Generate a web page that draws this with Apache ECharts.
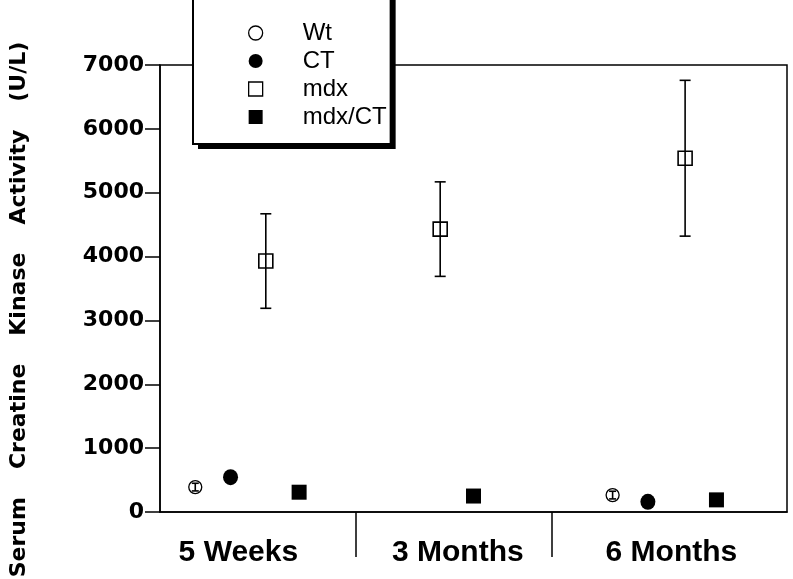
<!DOCTYPE html>
<html>
<head>
<meta charset="utf-8">
<script src="https://cdn.jsdelivr.net/npm/echarts@6/dist/echarts.min.js"></script>
<style>html,body{margin:0;padding:0;background:#fff}#chart{width:793px;height:579px}</style>
</head>
<body>
<div id="chart"></div>
<script>
// ---- data ----
const categories = ['5 Weeks', '3 Months', '6 Months'];
const seriesNames = ['Wt', 'CT', 'mdx', 'mdx/CT'];
const wtMean = [390, null, 265];
const wtErr = [60, null, 60];
const ctMean = [545, null, 160];
const mdxMean = [3930, 4430, 5540];
const mdxErr = [740, 740, 1220];
const mdxCtMean = [310, 250, 190];
const yMin = 0, yMax = 7000, yStep = 1000;

// ---- layout (positions on a 0..3.2 horizontal scale) ----
const xPosition = {
  'Wt': [0.18, null, 2.31],
  'CT': [0.36, null, 2.49],
  'mdx': [0.54, 1.43, 2.68],
  'mdx/CT': [0.71, 1.60, 2.84]
};
const labelPosition = [0.40, 1.52, 2.61];
const dividerPosition = [1, 2];

function pts(name, means) {
  const out = [];
  means.forEach((v, i) => { if (v != null) out.push([xPosition[name][i], v]); });
  return out;
}
function errPts(name, means, errs) {
  const out = [];
  means.forEach((v, i) => { if (v != null && errs[i] != null) out.push([xPosition[name][i], v - errs[i], v + errs[i]]); });
  return out;
}
function errorSeries(name, data, capW) {
  return {
    type: 'custom', name: name + ' error', z: 3, silent: true,
    renderItem: function (params, api) {
      const x = api.value(0);
      const lo = api.coord([x, api.value(1)]);
      const hi = api.coord([x, api.value(2)]);
      const st = { stroke: '#000', lineWidth: 1.6 };
      return { type: 'group', children: [
        { type: 'line', shape: { x1: hi[0], y1: hi[1], x2: lo[0], y2: lo[1] }, style: st },
        { type: 'line', shape: { x1: hi[0] - capW / 2, y1: hi[1], x2: hi[0] + capW / 2, y2: hi[1] }, style: st },
        { type: 'line', shape: { x1: lo[0] - capW / 2, y1: lo[1], x2: lo[0] + capW / 2, y2: lo[1] }, style: st }
      ]};
    },
    data: data
  };
}

const black = '#000';
function legendBlock(isShadow) {
  return {
    orient: 'vertical', left: isShadow ? 198 : 193, top: isShadow ? -3 : -8,
    z: isShadow ? 5 : 6,
    padding: [29, 4, 15, 55],
    itemWidth: 14, itemHeight: 14, itemGap: 4,
    backgroundColor: isShadow ? black : '#fff',
    borderColor: black, borderWidth: isShadow ? 0 : 2,
    selectedMode: false,
    textStyle: { fontFamily: 'Liberation Sans', fontSize: 24, color: black, lineHeight: 24, padding: [0, 0, 0, 35] },
    data: [
      { name: 'Wt', icon: 'circle', itemStyle: { color: isShadow ? black : '#fff', borderColor: black, borderWidth: 1.3 } },
      { name: 'CT', icon: 'circle', itemStyle: { color: black } },
      { name: 'mdx', icon: 'rect', itemStyle: { color: isShadow ? black : '#fff', borderColor: black, borderWidth: 1.3 } },
      { name: 'mdx/CT', icon: 'rect', itemStyle: { color: black } }
    ]
  };
}

const chart = echarts.init(document.getElementById('chart'), null, { renderer: 'canvas' });
chart.setOption({
  animation: false,
  backgroundColor: '#fff',
  grid: { left: 160, right: 6, top: 65, bottom: 67, show: true, borderColor: black, borderWidth: 1.5, backgroundColor: 'transparent', outerBoundsMode: 'none' },
  legend: [legendBlock(true), legendBlock(false)],
  xAxis: {
    type: 'value', min: 0, max: 3.2,
    axisLine: { show: true, lineStyle: { color: black, width: 1.5 } },
    axisTick: { show: true, customValues: dividerPosition, length: 45, lineStyle: { color: black, width: 1.5 } },
    axisLabel: {
      customValues: labelPosition, margin: 26,
      fontFamily: 'Liberation Sans', fontWeight: 'bold', fontSize: 30, color: black,
      formatter: function (v) { const i = labelPosition.indexOf(v); return i >= 0 ? categories[i] : ''; }
    },
    splitLine: { show: false }
  },
  yAxis: {
    type: 'value', min: yMin, max: yMax, interval: yStep,
    axisLine: { show: true, lineStyle: { color: black, width: 1.5 } },
    axisTick: { show: true, length: 15, lineStyle: { color: black, width: 1.5 } },
    axisLabel: { margin: 16, fontFamily: 'DejaVu Sans', fontWeight: 'bold', fontSize: 22, color: black,
      formatter: function (v) { return String(v); } },
    splitLine: { show: false },
    name: '{w|Serum}{s| }{w|Creatine}{s| }{w|Kinase}{s| }{w|Activity}{s| }{w|(U/L)}',
    nameLocation: 'middle', nameGap: 130,
    nameTextStyle: {
      padding: [0, 42, 0, 0],
      rich: {
        w: { fontFamily: 'DejaVu Sans', fontWeight: 'bold', fontSize: 22, color: black },
        s: { width: 28, fontSize: 22 }
      }
    }
  },
  series: [
    errorSeries('mdx', errPts('mdx', mdxMean, mdxErr), 11),
    { name: 'Wt', type: 'scatter', z: 2, symbol: 'circle', symbolSize: 13,
      itemStyle: { color: '#fff', borderColor: black, borderWidth: 1.3, opacity: 1 },
      data: pts('Wt', wtMean) },
    Object.assign(errorSeries('Wt', errPts('Wt', wtMean, wtErr), 7), { z: 4 }),
    { name: 'CT', type: 'scatter', z: 2, symbol: 'circle', symbolSize: [15, 16],
      itemStyle: { color: black, opacity: 1 }, data: pts('CT', ctMean) },
    { name: 'mdx', type: 'scatter', z: 5, symbol: 'rect', symbolSize: 14,
      itemStyle: { color: 'rgba(255,255,255,0)', borderColor: black, borderWidth: 1.6, opacity: 1 },
      data: pts('mdx', mdxMean) },
    { name: 'mdx/CT', type: 'scatter', z: 2, symbol: 'rect', symbolSize: 15,
      itemStyle: { color: black, opacity: 1 }, data: pts('mdx/CT', mdxCtMean) }
  ]
});
</script>
</body>
</html>
